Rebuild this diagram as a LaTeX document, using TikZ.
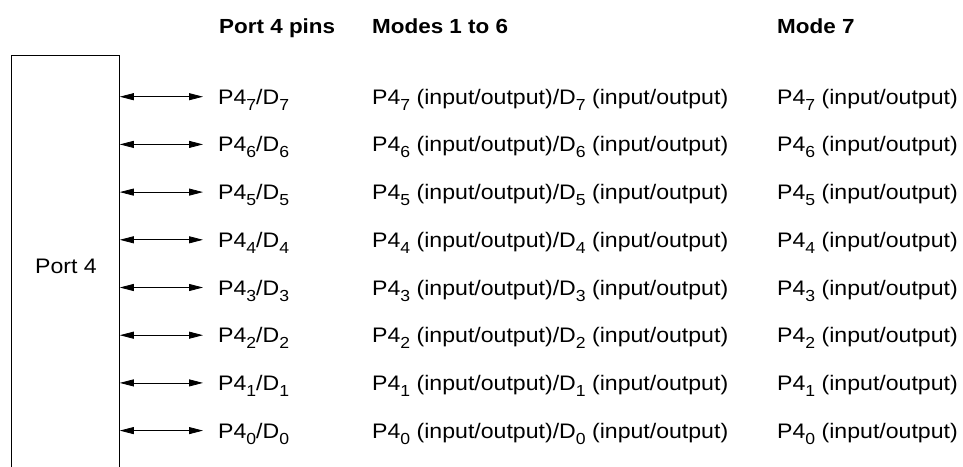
\documentclass[tikz,border=0pt]{standalone}
\usepackage{fontspec}
\setmainfont{Liberation Sans}[FakeStretch=1.1]
\usetikzlibrary{arrows.meta}
% lowered, smaller digit for pin indices
\newcommand\pinsub[1]{\raisebox{-6pt}{\fontsize{16}{16}\selectfont #1}}
\begin{document}
\begin{tikzpicture}[x=1pt,y=-1pt,
  txt/.style={inner sep=0pt, font=\fontsize{21}{25}\selectfont,
    text height=15pt, text depth=0pt, anchor=west},
  hdr/.style={txt, font=\fontsize{20.4}{24}\selectfont\bfseries, text height=14.6pt},
  pinlink/.style={{Triangle[length=14pt,width=7pt]}-{Triangle[length=14pt,width=7pt]},
    line width=0.8pt}]
\useasboundingbox (0,0) rectangle (963,466);
\fill[white] (0,0) rectangle (963,466);

% port block (runs past the lower edge)
\node[draw, line width=0.8pt, minimum width=108pt, minimum height=440pt,
  anchor=north west, inner sep=0pt] (port) at (11,55) {};
\node[txt, anchor=center] (portlbl) at (66,265.5) {Port 4};

% column headings
\node[hdr] (hpins)  at (219,25.8) {Port 4 pins};
\node[hdr] (hmodes) at (372,25.8) {Modes 1 to 6};
\node[hdr] (hseven) at (777,25.8) {Mode 7};

% one row per pin
\foreach \b/\y in {7/96.7,6/144.4,5/192.1,4/239.8,3/287.5,2/335.2,1/382.9,0/430.6} {
  \node[txt, inner xsep=15pt] (pin\b) at (203,\y) {P4\pinsub{\b}/D\pinsub{\b}};
  \draw[pinlink] (port.east |- pin\b.west) -- (pin\b.west);
  \node[txt] (m\b) at (372,\y) {P4\pinsub{\b} (input/output)/D\pinsub{\b} (input/output)};
  \node[txt] (s\b) at (777,\y) {P4\pinsub{\b} (input/output)};
}
\end{tikzpicture}
\end{document}
